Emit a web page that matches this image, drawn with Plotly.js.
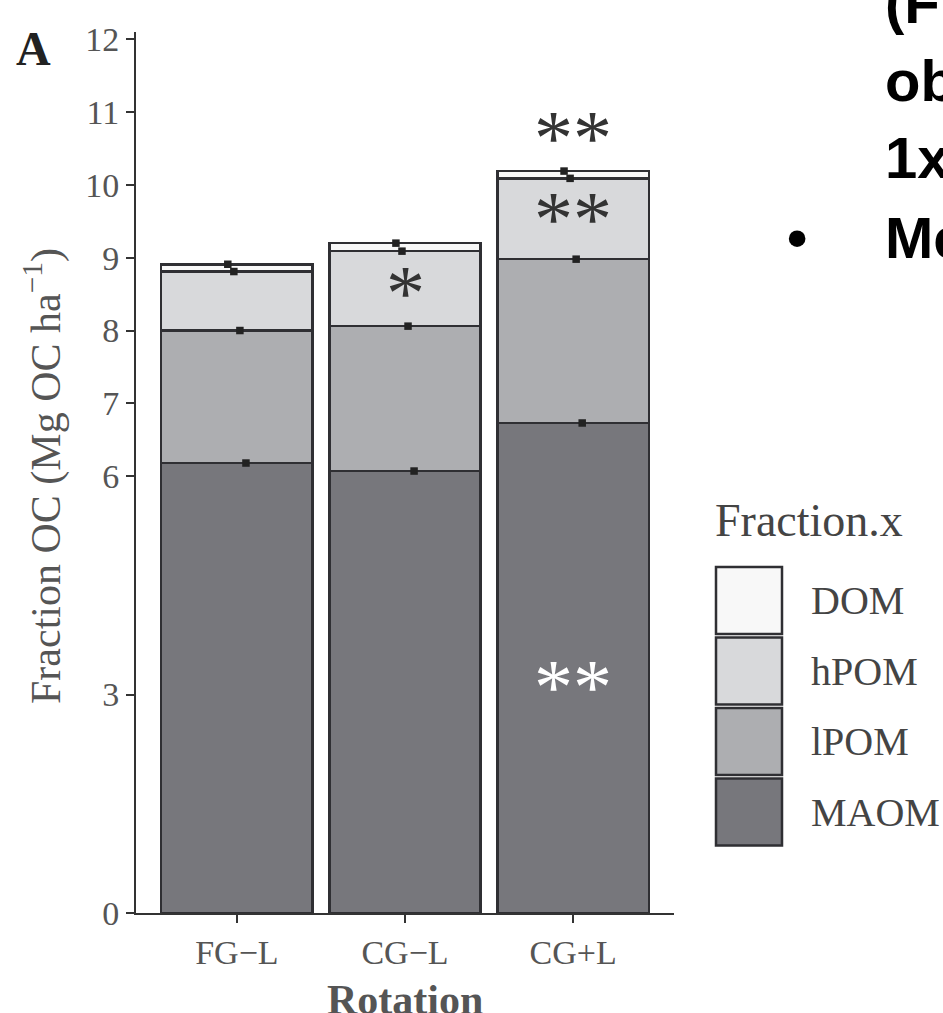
<!DOCTYPE html>
<html>
<head>
<meta charset="utf-8">
<script src="https://cdn.plot.ly/plotly-3.0.1.min.js"></script>
<style>html,body{margin:0;padding:0;background:#fff;}#chart{width:943px;height:1013px;}</style>
</head>
<body>
<div id="chart"></div>
<script>
// ---- data ----
const rotations = ["FG\u2212L", "CG\u2212L", "CG+L"];
const fractions = ["MAOM", "lPOM", "hPOM", "DOM"];
const MAOM = [6.18, 6.07, 6.73];
const lPOM = [1.82, 1.99, 2.25];
const hPOM = [0.81, 1.03, 1.11];
const DOM  = [0.10, 0.11, 0.10];
const yTickVals = [0, 3, 6, 7, 8, 9, 10, 11, 12];
// significance labels
const sigCat   = [2, 2, 1, 2];
const sigY     = [10.81, 9.71, 8.69, 3.27];
const sigText  = ["**", "**", "*", "**"];
const sigWhite = [false, false, false, true];
const slideLines = ["(F", "ob", "1x", "Me"];

// ---- style ----
const colors = {MAOM: "#77777c", lPOM: "#adaeb1", hPOM: "#d8d9db", DOM: "#f8f8f8"};
const outline = "#2f2f33";
const serif = "Liberation Serif, Times New Roman, serif";
const W = 943, H = 1013;
const L = 136, R = 674, T = 32, B = 913;
const px2x = p => (p - L) / (R - L);
const px2y = p => (B - p) / (B - T);
const dodge = [0.054, 0.018, -0.018, -0.054]; // MAOM, lPOM, hPOM, DOM

const series = {MAOM, lPOM, hPOM, DOM};
const xIdx = rotations.map((_, i) => i);
const traces = [];
fractions.forEach(f => {
  traces.push({
    type: "bar", x: xIdx, y: series[f], name: f, width: 0.9,
    marker: {color: colors[f], line: {color: outline, width: 2.5}},
    hoverinfo: "skip", showlegend: false
  });
});
// error markers at the cumulative tops
const cum = [0, 0, 0];
fractions.forEach((f, j) => {
  const ys = [], xs = [];
  series[f].forEach((v, i) => { cum[i] += v; ys.push(cum[i]); xs.push(i + dodge[j]); });
  traces.push({
    type: "scatter", mode: "markers", x: xs, y: ys, showlegend: false, hoverinfo: "skip",
    marker: {symbol: "square", size: 7.5, color: "#222"}
  });
});

const annotations = [];
annotations.push({xref: "paper", yref: "paper", x: px2x(33), y: px2y(48), text: "<b>A</b>",
  showarrow: false, xanchor: "center", yanchor: "middle", font: {family: serif, size: 48, color: "#222"}});
annotations.push({xref: "paper", yref: "paper", x: px2x(43), y: px2y(476),
  text: "Fraction OC (Mg OC ha<sup>\u22121</sup>)", textangle: -90, showarrow: false,
  xanchor: "center", yanchor: "middle", font: {family: serif, size: 42, color: "#555"}});
annotations.push({xref: "paper", yref: "paper", x: px2x(405), y: px2y(1000), text: "<b>Rotation</b>",
  showarrow: false, xanchor: "center", yanchor: "middle", font: {family: serif, size: 42, color: "#555"}});
sigCat.forEach((c, k) => {
  annotations.push({xref: "x", yref: "y", x: c, y: sigY[k], text: sigText[k], showarrow: false,
    xanchor: "center", yanchor: "middle", yshift: -12,
    font: {family: serif, size: 78, color: sigWhite[k] ? "#ffffff" : "#333"}});
});
// legend (drawn manually)
const shapes = [];
annotations.push({xref: "paper", yref: "paper", x: px2x(713), y: px2y(520), text: "Fraction.x",
  showarrow: false, xanchor: "left", yanchor: "middle", font: {family: serif, size: 46, color: "#444"}});
const legOrder = ["DOM", "hPOM", "lPOM", "MAOM"];
legOrder.forEach((f, k) => {
  const top = 567 + k * 70.5, bot = top + 67;
  shapes.push({type: "rect", xref: "paper", yref: "paper", x0: px2x(716), x1: px2x(782),
    y0: px2y(bot), y1: px2y(top), fillcolor: colors[f], line: {color: outline, width: 2.5}});
  annotations.push({xref: "paper", yref: "paper", x: px2x(809), y: px2y((top + bot) / 2), text: f,
    showarrow: false, xanchor: "left", yanchor: "middle", font: {family: serif, size: 40, color: "#444"}});
});
// clipped slide text on the right
const slideBase = [22, 100, 177, 257];
slideLines.forEach((t, k) => {
  annotations.push({xref: "paper", yref: "paper", x: px2x(883), y: px2y(slideBase[k] - 20), text: "<b>" + t + "</b>",
    showarrow: false, xanchor: "left", yanchor: "middle",
    font: {family: "Liberation Sans, Arial, sans-serif", size: 58, color: "#000"}});
});
annotations.push({xref: "paper", yref: "paper", x: px2x(797), y: px2y(237), text: "<b>\u2022</b>",
  showarrow: false, xanchor: "center", yanchor: "middle",
  font: {family: "Liberation Sans, Arial, sans-serif", size: 58, color: "#000"}});

const layout = {
  width: W, height: H,
  margin: {l: L, r: W - R, t: T, b: H - B, pad: 0},
  paper_bgcolor: "#fff", plot_bgcolor: "#fff",
  barmode: "stack", showlegend: false,
  xaxis: {range: [-0.6, 2.6], tickvals: xIdx, ticktext: rotations, showgrid: false, zeroline: false,
    showline: true, linecolor: "#333", linewidth: 2, ticks: "outside", ticklen: 8, tickwidth: 2, tickcolor: "#333",
    tickfont: {family: serif, size: 34, color: "#555"}, fixedrange: true},
  yaxis: {range: [0, 12.1], tickvals: yTickVals, showgrid: false, zeroline: false,
    showline: true, linecolor: "#333", linewidth: 2, ticks: "outside", ticklen: 8, tickwidth: 2, tickcolor: "#333",
    tickfont: {family: serif, size: 34, color: "#555"}, fixedrange: true},
  annotations, shapes
};
Plotly.newPlot("chart", traces, layout, {displayModeBar: false, staticPlot: true});
</script>
</body>
</html>
